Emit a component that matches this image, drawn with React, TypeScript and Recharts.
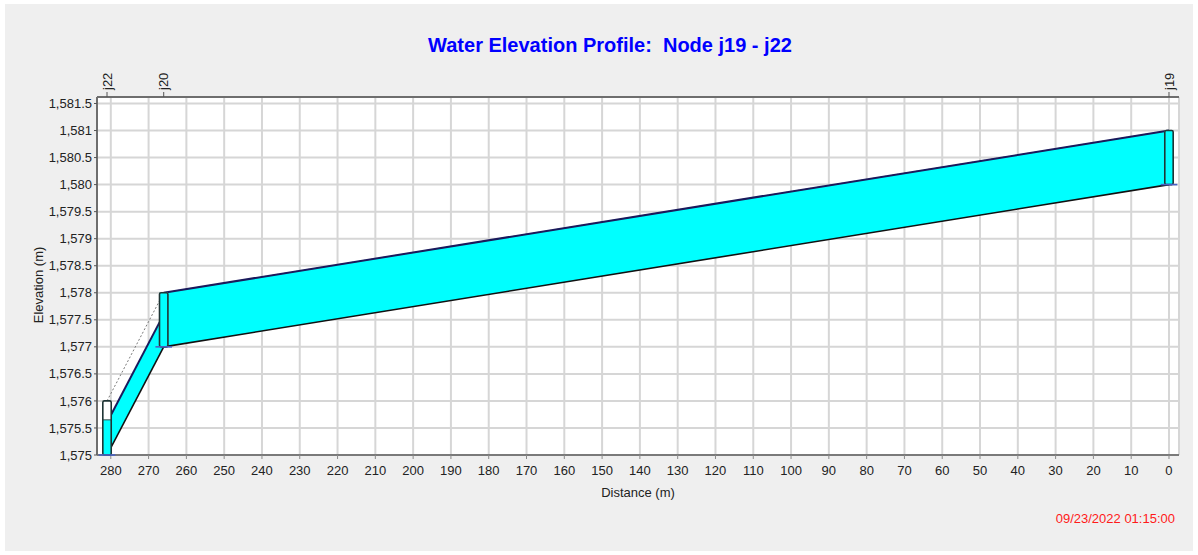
import * as React from 'react';
import {
    Area,
    CartesianGrid,
    ComposedChart,
    Line,
    ReferenceArea,
    XAxis,
    YAxis,
} from 'recharts';

// nodes along the profile (distance measured back from j19)
const nodeNames = ['j19', 'j20', 'j22'];
const nodeDistance = [0, 266, 281];
const nodeInvert = [1580, 1577, 1575];
const nodeRim = [1581, 1578, 1576];
const nodeWater = [1581, 1578, 1575.65];

// conduits, start node -> end node
const pipeStartDist = [0, 266];
const pipeEndDist = [266, 281];
const pipeStartInvert = [1580, 1577];
const pipeEndInvert = [1577, 1575];
const pipeStartWater = [1581, 1577.6];
const pipeEndWater = [1578, 1575.6];

// ground surface
const groundDist = [281, 266, 0];
const groundElev = [1576, 1578, 1581];

const xTicks = [280, 270, 260, 250, 240, 230, 220, 210, 200, 190, 180, 170, 160, 150, 140, 130, 120, 110, 100, 90, 80, 70, 60, 50, 40, 30, 20, 10, 0];
const yTicks = [1575, 1575.5, 1576, 1576.5, 1577, 1577.5, 1578, 1578.5, 1579, 1579.5, 1580, 1580.5, 1581, 1581.5];
const xMinorTicks = Array.from({ length: 142 }, (_, i) => i * 2);
const yMinorTicks = Array.from({ length: 67 }, (_, i) => Math.round((1575 + i * 0.1) * 10) / 10);

const X_DOMAIN: [number, number] = [-2.65, 283.65];
const Y_DOMAIN: [number, number] = [1575, 1581.62];

const FONT = "'Liberation Sans', Arial, sans-serif";
const WATER = '#00ffff';

const pipes = pipeStartDist.map((_, i) => [
    {
        dist: pipeStartDist[i],
        band: [pipeStartInvert[i], pipeStartWater[i]],
        invert: pipeStartInvert[i],
        water: pipeStartWater[i],
    },
    {
        dist: pipeEndDist[i],
        band: [pipeEndInvert[i], pipeEndWater[i]],
        invert: pipeEndInvert[i],
        water: pipeEndWater[i],
    },
]);

const ground = groundDist.map((d, i) => ({ dist: d, elev: groundElev[i] }));

const nodes = nodeNames.map((name, i) => ({
    name,
    dist: nodeDistance[i],
    invert: nodeInvert[i],
    rim: nodeRim[i],
    water: nodeWater[i],
}));

type Node = (typeof nodes)[number];

function nodeShape(node: Node) {
    return (p: any) => {
        const cx = p.x + p.width / 2;
        const top = p.y;
        const h = p.height;
        const frac = (node.water - node.invert) / (node.rim - node.invert);
        const wh = h * frac;
        const w = 8.4;
        return (
            <g>
                <rect x={cx - w / 2} y={top} width={w} height={h} fill="#fff" />
                <rect x={cx - w / 2} y={top + h - wh} width={w} height={wh} fill={WATER} />
                {frac < 1 && (
                    <line x1={cx - w / 2} x2={cx + w / 2} y1={top + h - wh} y2={top + h - wh} stroke="#3a4a4a" strokeWidth={1} />
                )}
                <rect
                    x={cx - w / 2}
                    y={top}
                    width={w}
                    height={h}
                    rx={1.5}
                    fill="none"
                    stroke="#1e3434"
                    strokeWidth={1.6}
                />
                <line x1={cx - 8.3} x2={cx + 8.3} y1={top + h} y2={top + h} stroke="#4a62c4" strokeWidth={1.6} />
            </g>
        );
    };
}

const NodeTick = (props: any) => {
    const { x, y, payload } = props;
    const node = nodes.find((n) => n.dist === payload.value);
    return (
        <g transform={`translate(${x},${y}) rotate(-90)`}>
            <text x={0} y={0} dy="0.36em" textAnchor="start" fontSize={13} fontFamily={FONT} fill="#222">
                {node ? node.name : ''}
            </text>
        </g>
    );
};

export default function App() {
    return (
        <div style={{ position: 'fixed', left: 0, top: 0, width: 1198, height: 555, background: '#fff' }}>
            <div style={{ position: 'absolute', left: 5, top: 4, width: 1188, height: 547, background: '#efefef' }} />
            <div
                style={{
                    position: 'absolute',
                    left: 310,
                    top: 33,
                    width: 600,
                    lineHeight: '24px',
                    textAlign: 'center',
                    fontFamily: FONT,
                    fontWeight: 'bold',
                    fontSize: 20,
                    color: '#0000ff',
                    whiteSpace: 'pre',
                }}
            >
                {'Water Elevation Profile:  Node j19 - j22'}
            </div>
            <div
                style={{
                    position: 'absolute',
                    left: 975,
                    top: 511,
                    width: 200,
                    lineHeight: '16px',
                    textAlign: 'right',
                    fontFamily: FONT,
                    fontSize: 13,
                    color: '#ff1a1a',
                }}
            >
                09/23/2022 01:15:00
            </div>
            <div style={{ position: 'absolute', left: 0, top: 0 }}>
                <ComposedChart width={1198} height={555} margin={{ top: 67, right: 19, bottom: 70, left: 0 }}>
                    <CartesianGrid
                        stroke="#d6d6d6"
                        strokeWidth={2}
                        fill="#fff"
                        fillOpacity={1}
                    />
                    {/* minor tick marks, listed first so they sit on the plot edge */}
                    <XAxis
                        xAxisId="minor"
                        type="number"
                        dataKey="dist"
                        domain={X_DOMAIN}
                        allowDataOverflow
                        reversed
                        ticks={xMinorTicks}
                        interval={0}
                        height={0}
                        tick={false}
                        tickSize={4}
                        tickLine={{ stroke: '#a6a6a6', strokeWidth: 1 }}
                        axisLine={false}
                    />
                    <YAxis
                        yAxisId="minor"
                        type="number"
                        domain={Y_DOMAIN}
                        allowDataOverflow
                        ticks={yMinorTicks}
                        interval={0}
                        width={0}
                        tick={false}
                        tickSize={3}
                        tickLine={{ stroke: '#a6a6a6', strokeWidth: 1 }}
                        axisLine={false}
                    />
                    <XAxis
                        type="number"
                        dataKey="dist"
                        domain={X_DOMAIN}
                        allowDataOverflow
                        reversed
                        ticks={xTicks}
                        interval={0}
                        height={30}
                        tickSize={4}
                        tickMargin={7}
                        tickLine={{ stroke: '#8a8a8a' }}
                        axisLine={{ stroke: '#7a7a7a', strokeWidth: 2 }}
                        tick={{ fontSize: 13, fontFamily: FONT, fill: '#222' }}
                        label={{
                            content: (p: any) => (
                                <text
                                    x={p.viewBox.x + p.viewBox.width / 2}
                                    y={492}
                                    textAnchor="middle"
                                    dominantBaseline="central"
                                    fontSize={13}
                                    fontFamily={FONT}
                                    fill="#222"
                                >
                                    Distance (m)
                                </text>
                            ),
                        }}
                    />
                    <XAxis
                        xAxisId="nodes"
                        orientation="top"
                        type="number"
                        dataKey="dist"
                        domain={X_DOMAIN}
                        allowDataOverflow
                        reversed
                        ticks={nodeDistance}
                        interval={0}
                        height={30}
                        tickSize={5}
                        tickMargin={2}
                        tickLine={{ stroke: '#555' }}
                        axisLine={{ stroke: '#6e6e6e', strokeWidth: 2 }}
                        tick={<NodeTick />}
                    />
                    <YAxis
                        type="number"
                        domain={Y_DOMAIN}
                        allowDataOverflow
                        ticks={yTicks}
                        interval={0}
                        width={97}
                        tickSize={3}
                        tickMargin={2}
                        tickLine={{ stroke: '#555' }}
                        axisLine={{ stroke: '#6e6e6e', strokeWidth: 2 }}
                        tick={{ fontSize: 13, fontFamily: FONT, fill: '#222' }}
                        tickFormatter={(v: number) => v.toLocaleString('en-US')}
                        label={{
                            content: () => {
                                const cx = 38;
                                const cy = 285;
                                return (
                                    <text
                                        x={cx}
                                        y={cy}
                                        transform={`rotate(-90 ${cx} ${cy})`}
                                        textAnchor="middle"
                                        dominantBaseline="central"
                                        fontSize={13}
                                        fontFamily={FONT}
                                        fill="#222"
                                    >
                                        Elevation (m)
                                    </text>
                                );
                            },
                        }}
                    />
                    <YAxis
                        yAxisId="right"
                        orientation="right"
                        type="number"
                        domain={Y_DOMAIN}
                        allowDataOverflow
                        width={0}
                        tick={false}
                        tickLine={false}
                        axisLine={{ stroke: '#6e6e6e', strokeWidth: 2 }}
                    />

                    {pipes.map((data, i) => (
                        <Area
                            key={`fill-${i}`}
                            data={data}
                            dataKey="band"
                            type="linear"
                            fill={WATER}
                            fillOpacity={1}
                            stroke="none"
                            isAnimationActive={false}
                            dot={false}
                            activeDot={false}
                        />
                    ))}
                    <Line
                        data={ground}
                        dataKey="elev"
                        type="linear"
                        stroke="#7a7a7a"
                        strokeWidth={1}
                        strokeDasharray="2 2"
                        dot={false}
                        activeDot={false}
                        isAnimationActive={false}
                    />
                    {pipes.map((data, i) => (
                        <Line
                            key={`invert-${i}`}
                            data={data}
                            dataKey="invert"
                            type="linear"
                            stroke="#111"
                            strokeWidth={1.6}
                            dot={false}
                            activeDot={false}
                            isAnimationActive={false}
                        />
                    ))}
                    {pipes.map((data, i) => (
                        <Line
                            key={`water-${i}`}
                            data={data}
                            dataKey="water"
                            type="linear"
                            stroke="#1a1a5c"
                            strokeWidth={2}
                            dot={false}
                            activeDot={false}
                            isAnimationActive={false}
                        />
                    ))}
                    {nodes.map((n) => (
                        <ReferenceArea
                            key={n.name}
                            x1={n.dist}
                            x2={n.dist}
                            y1={n.invert}
                            y2={n.rim}
                            ifOverflow="visible"
                            shape={nodeShape(n)}
                            {...({ zIndex: 700 } as any)}
                        />
                    ))}
                </ComposedChart>
            </div>
        </div>
    );
}
